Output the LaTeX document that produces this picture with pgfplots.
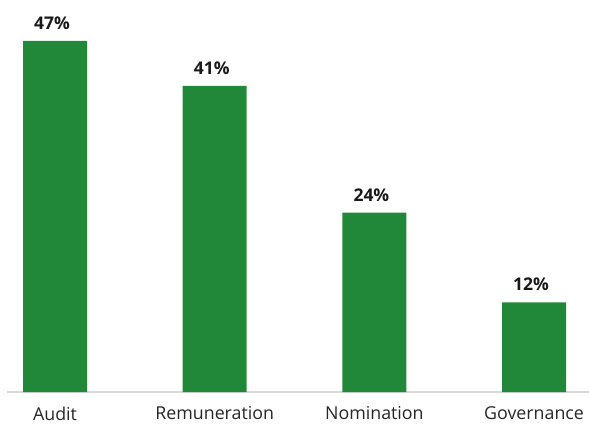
\documentclass[border=0pt]{standalone}
\usepackage{fontspec}
\setmainfont{Open Sans}
\usepackage{pgfplots}
\pgfplotsset{compat=1.18}
\definecolor{bargreen}{HTML}{228839}
\definecolor{axisgray}{HTML}{D9D9D9}
\begin{document}
\begin{tikzpicture}
\useasboundingbox (0,0) rectangle (589pt,424pt);
\begin{axis}[
    at={(7pt,32pt)}, anchor=south west,
    scale only axis,
    width=582pt, height=392pt,
    ymin=0, ymax=52.48,
    xmin=-0.3006, xmax=3.344,
    axis x line=bottom,
    axis y line=none,
    x axis line style={draw=axisgray, line width=1.5pt, -},
    xtick={0,1,2,3},
    xticklabels={Audit,Remuneration,Nomination,Governance},
    major tick length=0pt,
    xticklabel style={font=\fontsize{17.8}{20}\selectfont, color=black!85, yshift=-11pt},
    ybar,
    bar width=64pt,
    nodes near coords={\pgfmathprintnumber[assume math mode=true]{\pgfplotspointmeta}\%},
    every node near coord/.append style={font=\fontsize{17.5}{20}\selectfont\bfseries, color=black!90, yshift=8pt, xshift=-3pt},
    clip=false,
]
\addplot[fill=bargreen, draw=none] coordinates {(0,47) (1,41) (2,24) (3,12)};
\end{axis}
\end{tikzpicture}
\end{document}
